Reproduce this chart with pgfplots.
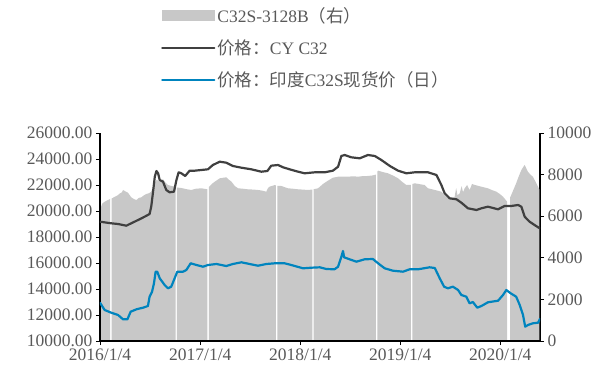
\documentclass[border=0pt]{standalone}
\usepackage{fontspec}
\setmainfont{Liberation Serif}
\newfontfamily\cjk{Noto Sans CJK SC}
\usepackage{pgfplots}
\pgfplotsset{compat=1.18}
\definecolor{areagray}{RGB}{200,200,200}
\definecolor{cyline}{RGB}{64,64,64}
\definecolor{indblue}{RGB}{0,132,190}
\definecolor{labelgray}{RGB}{89,89,89}

\begin{document}
\begin{tikzpicture}
\pgfplotsset{
  base/.style={
    scale only axis, width=440bp, height=208bp,
    xmin=0, xmax=1606,
    tick align=outside, major tick length=4bp,
    every tick/.style={black, line width=0.8pt},
    axis line style={black, line width=1.2pt},
    tick label style={font=\fontsize{17.5bp}{20bp}\selectfont, text=labelgray},
    /pgf/number format/assume math mode=true,
    /pgf/number format/1000 sep={},
    scaled y ticks=false, scaled x ticks=false,
    clip=true,
  }
}
% right axis: C32S-3128B spread (filled area), days counted from 2016/1/4
\begin{axis}[base,
  axis x line=none, axis y line*=right,
  ymin=0, ymax=10000, ytick={0,2000,...,10000},
]
\addplot[fill=areagray, draw=none] coordinates {
(0,6298)(8,6600)(17,6697)(26,6760)(35,6813)(37,6830)(37,0)(42,0)(42,6850)(55,6938)
(64,7000)(73,7101)(80,7150)(84,7260)(92,7200)(102,7130)(114,6909)(124,6820)(133,6779)
(142,6880)(151,6909)(160,7000)(169,7067)(178,7100)(187,7178)(196,7500)(206,7740)
(218,7700)(230,7774)(240,7600)(248,7500)(262,7450)(273,7418)(276,7400)(276,0)(281,0)
(281,7380)(297,7356)(315,7300)(333,7260)(350,7320)(370,7341)(392,7293)(392,0)(397,0)
(397,7400)(408,7550)(419,7659)(437,7822)(450,7850)(461,7870)(470,7760)(480,7659)
(492,7450)(504,7341)(522,7320)(540,7293)(560,7280)(577,7260)(592,7230)(607,7178)
(613,7350)(619,7418)(638,7500)(642,7480)(642,0)(647,0)(647,7460)(662,7452)(686,7341)
(705,7320)(723,7293)(740,7280)(759,7260)(775,7280)(775,0)(780,0)(780,7300)(796,7341)
(814,7550)(832,7707)(850,7850)(869,7899)(887,7900)(905,7899)(924,7920)(942,7899)
(960,7930)(978,7933)(995,7960)(1007,8000)(1007,0)(1012,0)(1012,8150)(1015,8188)
(1033,8120)(1051,8063)(1070,7950)(1088,7822)(1103,7650)(1118,7500)(1135,7500)
(1135,0)(1140,0)(1140,7550)(1149,7582)(1167,7540)(1185,7500)(1197,7341)(1210,7300)
(1222,7260)(1234,7220)(1246,7178)(1258,7000)(1270,6861)(1282,6880)(1294,6909)
(1300,7350)(1305,7000)(1313,7101)(1320,7450)(1325,7150)(1331,7341)(1340,7500)
(1349,7260)(1358,7550)(1368,7500)(1380,7460)(1392,7418)(1404,7380)(1416,7341)
(1430,7260)(1447,7178)(1460,7060)(1471,6938)(1486,6697)(1486,0)(1497,0)(1497,6900)
(1501,7019)(1510,7300)(1519,7582)(1528,7900)(1538,8221)(1544,8350)(1550,8462)
(1556,8300)(1562,8139)(1571,8000)(1580,7899)(1590,7650)(1599,7418)(1604,7260)(1604,0)
} \closedcycle;
\end{axis}
% left axis: price series
\begin{axis}[base, name=main,
  axis x line*=bottom, axis y line*=left,
  ymin=10000, ymax=26000, ytick={10000,12000,...,26000},
  yticklabel style={/pgf/number format/fixed, /pgf/number format/fixed zerofill,
    /pgf/number format/precision=2},
  xtick={0,366,731,1096,1461},
  xticklabels={2016/1/4,2017/1/4,2018/1/4,2019/1/4,2020/1/4},
  legend image code/.code={\draw[#1] (0bp,0bp) -- (52bp,0bp);},
  legend style={at={(0.1386,1.615)}, anchor=north west, draw=none, fill=none,
    font=\fontsize{17.5bp}{20bp}\selectfont, text=labelgray,
    row sep=12bp, inner sep=0pt, cells={anchor=west},
    /tikz/every even column/.style={column sep=4bp}},
  legend cell align=left,
]
\addlegendimage{legend image code/.code={\fill[areagray] (0bp,-5bp) rectangle (52bp,5bp);}}
\addlegendentry{C32S-3128B{\cjk （右）}}
\addplot[cyline, line width=2.2pt, line join=round, line cap=round] coordinates {
(0,19177)(41,19054)(66,19000)(96,18869)(114,19054)(139,19308)(163,19562)(181,19769)
(187,20331)(193,21362)(200,22638)(206,23077)(212,22900)(218,22385)(230,22254)
(242,21615)(254,21438)(270,21485)(279,22385)(287,22977)(297,22900)(311,22692)
(327,23100)(345,23100)(370,23154)(394,23208)(412,23538)(437,23792)(461,23715)
(485,23462)(516,23331)(552,23208)(589,23023)(611,23077)(625,23485)(650,23538)
(668,23362)(692,23208)(723,23023)(747,22900)(784,22977)(820,22977)(850,23100)
(869,23408)(881,24231)(893,24308)(917,24131)(948,24054)(978,24308)(1003,24231)
(1027,23923)(1058,23462)(1088,23100)(1118,22900)(1149,22977)(1179,22977)(1197,22977)
(1228,22769)(1246,22000)(1258,21362)(1276,20977)(1301,20900)(1319,20638)(1343,20208)
(1374,20077)(1392,20208)(1416,20331)(1453,20131)(1477,20385)(1501,20385)(1526,20462)
(1538,20331)(1550,19562)(1568,19177)(1586,18923)(1605,18669)
};
\addlegendentry{{\cjk 价格：}CY C32}
\addplot[indblue, line width=2.2pt, line join=round, line cap=round] coordinates {
(0,12946)(17,12385)(41,12177)(66,12000)(84,11669)(100,11669)(112,12254)(133,12438)
(157,12562)(175,12692)(181,13408)(190,13792)(197,14438)(203,15331)(209,15331)
(218,14823)(236,14308)(248,14054)(260,14177)(270,14692)(282,15331)(303,15331)
(315,15462)(331,15977)(352,15846)(376,15715)(394,15846)(425,15923)(461,15769)
(485,15923)(516,16054)(546,15923)(577,15792)(607,15923)(638,15977)(674,15977)
(698,15846)(741,15592)(771,15638)(802,15669)(826,15538)(856,15515)(869,15715)
(881,16485)(887,16923)(891,16438)(911,16285)(936,16100)(966,16285)(996,16308)
(1015,15977)(1039,15592)(1069,15408)(1106,15331)(1130,15515)(1161,15515)(1203,15669)
(1222,15615)(1240,14823)(1256,14177)(1270,14054)(1288,14177)(1307,13923)(1319,13538)
(1337,13408)(1349,12900)(1361,13000)(1377,12562)(1392,12692)(1416,12977)(1453,13100)
(1471,13538)(1483,13923)(1499,13669)(1519,13408)(1532,12769)(1544,12000)(1552,11100)
(1562,11231)(1580,11362)(1599,11408)(1606,11700)
};
\addlegendentry{{\cjk 价格：印度}C32S{\cjk 现货价（日）}}
\coordinate (O) at (rel axis cs:0,0);
\end{axis}
\pgfresetboundingbox
\path (O) ++(-100bp,-37bp) rectangle ++(612bp,378bp);
\end{tikzpicture}
\end{document}
